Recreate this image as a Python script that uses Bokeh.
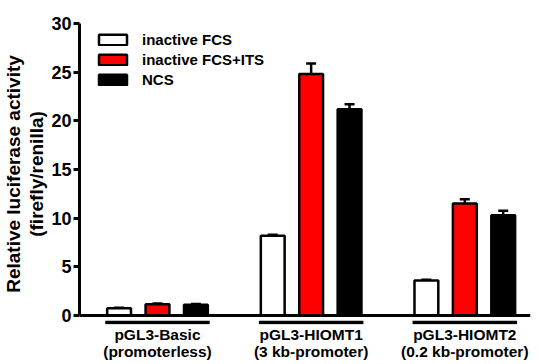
from bokeh.plotting import figure
from bokeh.models import (ColumnDataSource, Range1d, FixedTicker, Span, Whisker,
                          TeeHead, Legend, LegendItem)
from bokeh.embed import file_html
from bokeh.resources import INLINE

# ---- data ----
groups = ["pGL3-Basic\n(promoterless)", "pGL3-HIOMT1\n(3 kb-promoter)", "pGL3-HIOMT2\n(0.2 kb-promoter)"]
series = ["inactive FCS", "inactive FCS+ITS", "NCS"]
fcs = [0.75, 8.2, 3.6]
fcs_err = [0.05, 0.1, 0.08]
its = [1.15, 24.8, 11.5]
its_err = [0.08, 1.1, 0.45]
ncs = [1.1, 21.2, 10.3]
ncs_err = [0.07, 0.5, 0.45]
y_ticks = [0, 5, 10, 15, 20, 25, 30]

FONT = "Liberation Sans"

p = figure(width=531, height=362, output_backend="svg", toolbar_location=None,
           x_range=Range1d(-1.03, 10.71), y_range=Range1d(-0.925, 30),
           min_border_left=79, min_border_right=1, min_border_top=23, min_border_bottom=38)
p.outline_line_color = None
p.xgrid.visible = False
p.ygrid.visible = False

fills = ["white", "red", "black"]
vals = [fcs, its, ncs]
errs = [fcs_err, its_err, ncs_err]
items = []
for s, (name, v, e, fc) in enumerate(zip(series, vals, errs, fills)):
    xs = [g * 4 + 1 + (s - 1) for g in range(len(groups))]
    src = ColumnDataSource(dict(x=xs, top=v, lower=v, upper=[a + b for a, b in zip(v, e)]))
    r = p.vbar(x="x", top="top", width=0.62, bottom=0, source=src,
               fill_color=fc, line_color="black", line_width=2.5)
    items.append(LegendItem(label=name, renderers=[r]))
    w = Whisker(source=src, base="x", upper="upper", lower="lower",
                line_width=2.5, line_color="black",
                upper_head=TeeHead(size=10, line_width=2.5, line_color="black"),
                lower_head=None, level="overlay")
    p.add_layout(w)

# group underlines
centers = [g * 4 + 1 for g in range(len(groups))]
gx0 = [c - 1.36 for c in centers]
gx1 = [c + 1.36 for c in centers]
p.segment(x0=gx0, x1=gx1, y0=[-0.72] * 3, y1=[-0.72] * 3, line_width=3.3, line_color="black")

# x axis line at y=0
p.add_layout(Span(location=0, dimension="width", line_color="black", line_width=3))

# x axis: category labels only
xax = p.xaxis[0]
xax.ticker = FixedTicker(ticks=centers)
xax.major_label_overrides = {c: lab for c, lab in zip(centers, groups)}
xax.axis_line_color = None
xax.major_tick_line_color = None
xax.minor_tick_line_color = None
xax.major_tick_out = 0
xax.major_tick_in = 0
xax.minor_tick_out = 0
xax.minor_tick_in = 0
xax.major_label_text_font = FONT
xax.major_label_text_font_style = "bold"
xax.major_label_text_font_size = "15.5px"
xax.major_label_text_line_height = 1.0
xax.major_label_text_color = "black"
xax.major_label_standoff = 1

# y axis
yax = p.yaxis[0]
yax.bounds = (0, 30)
yax.ticker = FixedTicker(ticks=y_ticks)
yax.axis_line_width = 3
yax.major_tick_line_width = 3
yax.major_tick_out = 6
yax.major_tick_in = 0
yax.minor_tick_line_color = None
yax.minor_tick_out = 0
yax.minor_tick_in = 0
yax.major_label_text_font = FONT
yax.major_label_text_font_style = "bold"
yax.major_label_text_font_size = "18px"
yax.major_label_text_color = "black"
yax.major_label_standoff = 2
yax.axis_label = "Relative luciferase activity\n(firefly/renilla)"
yax.axis_label_text_font = FONT
yax.axis_label_text_font_style = "bold"
yax.axis_label_text_font_size = "19px"
yax.axis_label_text_line_height = 1.1
yax.axis_label_standoff = 1
yax.axis_label_text_color = "black"

legend = Legend(items=items, location=(16, 236), margin=10, padding=10,
                glyph_width=35, glyph_height=13, label_standoff=12, spacing=3,
                label_text_font=FONT, label_text_font_style="bold",
                label_text_font_size="15px", label_height=13,
                label_text_color="black",
                border_line_color=None, background_fill_alpha=0)
p.add_layout(legend)

open("out.html", "w").write(file_html(p, INLINE))
